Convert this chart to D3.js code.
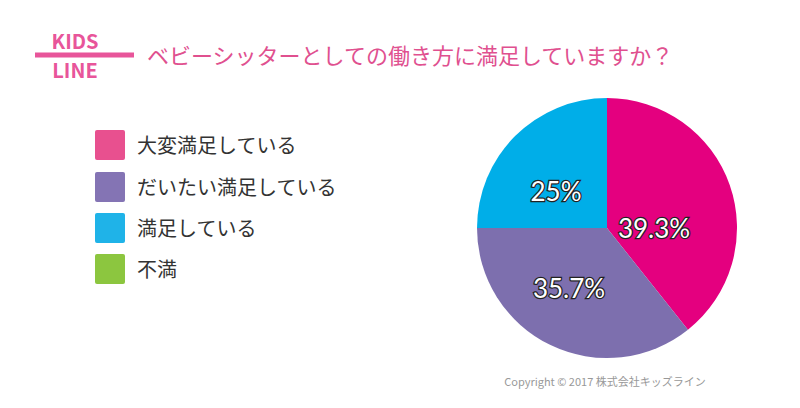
<!DOCTYPE html>
<html><head><meta charset="utf-8">
<script src="https://cdn.jsdelivr.net/npm/d3@7"></script>
<style>body{margin:0;background:#fff}text{font-family:"Noto Sans CJK JP",sans-serif}</style>
</head><body><svg id="c" width="800" height="408"></svg>
<script>
const categories = ["大変満足している", "だいたい満足している", "満足している", "不満"];
const values = [39.3, 35.7, 25, 0];
const labels = ["39.3%", "35.7%", "25%", ""];
const colors = ["#e4007f", "#7d6fae", "#00aee8", "#8cc63f"];
const legendColors = ["#e8508f", "#8474b4", "#1fb3e8", "#8cc63f"];

const svg = d3.select("#c");

// logo
const logo = svg.append("g").attr("fill", "#e8559a").style("font-weight", "bold");
logo.append("text").attr("x", 75).attr("y", 49).attr("text-anchor", "middle").attr("font-size", 20).text("KIDS");
logo.append("text").attr("x", 75).attr("y", 78).attr("text-anchor", "middle").attr("font-size", 20).text("LINE");
logo.append("line").attr("x1", 35).attr("x2", 134).attr("y1", 55).attr("y2", 55).attr("stroke", "#e8559a").attr("stroke-width", 5);

svg.append("text").attr("x", 147).attr("y", 64).attr("font-size", 22).attr("fill", "#e0508f")
  .text("ベビーシッターとしての働き方に満足していますか？");

// legend
const lg = svg.append("g").selectAll("g").data(categories).join("g")
  .attr("transform", (d, i) => `translate(95,${[130, 172, 213, 254][i]})`);
lg.append("rect").attr("width", 30).attr("height", 30).attr("rx", 2).attr("fill", (d, i) => legendColors[i]);
lg.append("text").attr("x", 42).attr("y", 23).attr("font-size", 20).attr("fill", "#333").text(d => d);

// pie
const pie = d3.pie().sort(null).value(d => d);
const arc = d3.arc().innerRadius(0).outerRadius(130);
const g = svg.append("g").attr("transform", "translate(607,228)");
const arcs = pie(values);
g.selectAll("path").data(arcs).join("path").attr("d", arc).attr("fill", (d, i) => colors[i]);
const lpos = [[47, 0], [-38, 60], [-51, -37]];
g.selectAll("text.l").data(arcs.slice(0, 3)).join("text").attr("class", "l")
  .attr("x", (d, i) => lpos[i][0]).attr("y", (d, i) => lpos[i][1] + 10)
  .attr("text-anchor", "middle").attr("font-size", 26)
  .style("font-family", "Lato, 'Noto Sans', sans-serif")
  .attr("fill", "#fff").attr("stroke", "#222").attr("stroke-width", 2.5)
  .attr("paint-order", "stroke").text((d, i) => labels[i]);

svg.append("text").attr("x", 605).attr("y", 386).attr("text-anchor", "middle").attr("font-size", 11)
  .attr("fill", "#999").text("Copyright © 2017 株式会社キッズライン");
</script></body></html>
